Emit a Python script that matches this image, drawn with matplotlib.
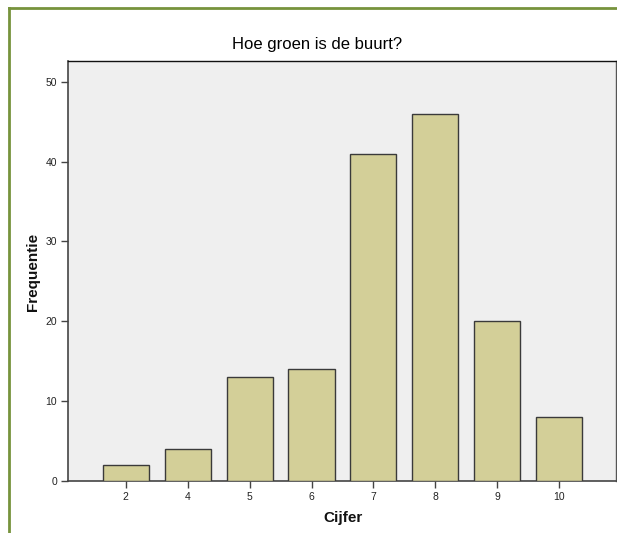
import matplotlib
matplotlib.use("Agg")
import matplotlib.pyplot as plt
from matplotlib.lines import Line2D

categories = ["2", "4", "5", "6", "7", "8", "9", "10"]
frequencies = [2, 4, 13, 14, 41, 46, 20, 8]
yticks = [0, 10, 20, 30, 40, 50]

plt.rcParams['font.family'] = ['Liberation Sans', 'DejaVu Sans']

fig = plt.figure(figsize=(6.17, 5.33), dpi=100)
fig.patch.set_facecolor('white')

W, H = 617, 533
ax = fig.add_axes([68 / W, (H - 481) / H, (616 - 68) / W, (481 - 61) / H])
ax.set_facecolor('#EFEFEF')

x = list(range(len(categories)))
ax.bar(x, frequencies, width=0.745, color='#D3CF98', edgecolor='#3A3A3A', linewidth=1.0, zorder=3)

ax.set_xlim(-0.935, 7.92)
ax.set_ylim(0, 52.6)
ax.set_xticks(x)
ax.set_xticklabels(categories)
ax.set_yticks(yticks)
ax.tick_params(axis='both', direction='out', length=5, width=1, color='#444444',
               labelsize=7.5, labelcolor='#222222', pad=3)

for s in ['left', 'bottom']:
    ax.spines[s].set_color('#444444')
    ax.spines[s].set_linewidth(1.2)
ax.spines['top'].set_color('#111111')
ax.spines['top'].set_linewidth(1.0)
ax.spines['right'].set_color('#555555')
ax.spines['right'].set_linewidth(1.0)

fig.text(317 / W, (H - 44) / H, "Hoe groen is de buurt?", ha='center', va='center',
         fontsize=12, color='black')
fig.text(343 / W, (H - 518) / H, "Cijfer", ha='center', va='center',
         fontsize=11, fontweight='bold', color='#111111')
fig.text(33 / W, (H - 272) / H, "Frequentie", ha='center', va='center',
         fontsize=11, fontweight='bold', color='#111111', rotation=90)

# green frame
green = '#77933C'
fig.add_artist(Line2D([9 / W, 9 / W], [0, (H - 8) / H], color=green, linewidth=2,
                      transform=fig.transFigure))
fig.add_artist(Line2D([9 / W, 1.0], [(H - 8) / H, (H - 8) / H], color=green, linewidth=2,
                      transform=fig.transFigure))

fig.savefig("out.png", dpi=100)
